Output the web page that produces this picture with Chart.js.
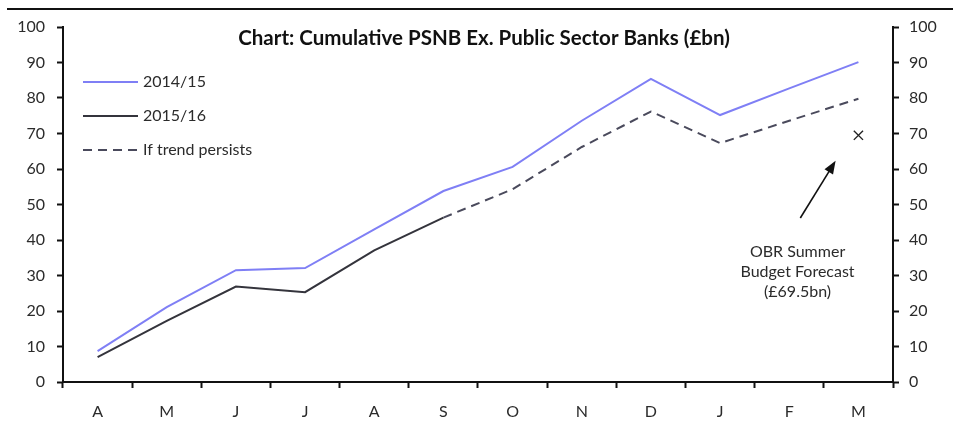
<!DOCTYPE html>
<html><head><meta charset="utf-8">
<script src="https://cdn.jsdelivr.net/npm/chart.js@4/dist/chart.umd.min.js"></script>
<style>html,body{margin:0;padding:0;background:#fff}#wrap{width:960px;height:427px}</style>
</head><body><div id="wrap"><canvas id="c" width="960" height="427"></canvas></div>
<script>
const months = ['A','M','J','J','A','S','O','N','D','J','F','M'];
const fy1415 = [8.7,21.1,31.5,32.1,43.0,53.8,60.6,73.6,85.4,75.2,82.7,90.1];
const fy1516 = [7.0,17.2,26.9,25.3,37.1,46.3,null,null,null,null,null,null];
const trend  = [null,null,null,null,null,46.3,54.3,66.2,76.2,67.3,73.6,79.8];
const obrForecast = [null,null,null,null,null,null,null,null,null,null,null,69.5];
const yTicks = [0,10,20,30,40,50,60,70,80,90,100];
const titleText = 'Chart: Cumulative PSNB Ex. Public Sector Banks (£bn)';
const noteLines = ['OBR Summer','Budget Forecast','(£69.5bn)'];

const FONT = 'Lato, "Open Sans", sans-serif';
const TXT = '#2b2b2b';

const decor = {
  id:'decor',
  afterDraw(chart){
    const ctx = chart.ctx, x = chart.scales.x, y = chart.scales.y;
    ctx.save();
    // top rule
    ctx.strokeStyle = '#111'; ctx.lineWidth = 2;
    ctx.beginPath(); ctx.moveTo(7,9); ctx.lineTo(953,9); ctx.stroke();
    // title
    ctx.fillStyle = '#111'; ctx.font = 'bold 20.5px ' + FONT;
    ctx.textAlign = 'center'; ctx.textBaseline = 'middle';
    ctx.fillText(titleText, 484, 38);
    // legend
    ctx.font = '16px ' + FONT; ctx.textAlign = 'left'; ctx.fillStyle = TXT;
    const ds = chart.data.datasets;
    [0,1,2].forEach((i,k)=>{
      const ly = 82 + k*34;
      ctx.strokeStyle = ds[i].borderColor; ctx.lineWidth = 2;
      ctx.setLineDash(ds[i].borderDash || []);
      ctx.beginPath(); ctx.moveTo(83,ly); ctx.lineTo(138,ly); ctx.stroke();
      ctx.setLineDash([]);
      ctx.fillText(ds[i].label, 143, ly);
    });
    // annotation arrow (in data space)
    const step = x.getPixelForValue(1) - x.getPixelForValue(0);
    const tx = x.getPixelForValue(10) + 0.16*step, ty = y.getPixelForValue(46.2);
    const hx = x.getPixelForValue(10) + 0.67*step, hy = y.getPixelForValue(62.3);
    const ang = Math.atan2(hy-ty, hx-tx);
    ctx.strokeStyle = '#111'; ctx.fillStyle = '#111'; ctx.lineWidth = 1.6;
    ctx.beginPath(); ctx.moveTo(tx,ty);
    ctx.lineTo(hx - 10*Math.cos(ang), hy - 10*Math.sin(ang)); ctx.stroke();
    ctx.beginPath(); ctx.moveTo(hx,hy);
    ctx.lineTo(hx - 13*Math.cos(ang) + 5*Math.sin(ang), hy - 13*Math.sin(ang) - 5*Math.cos(ang));
    ctx.lineTo(hx - 13*Math.cos(ang) - 5*Math.sin(ang), hy - 13*Math.sin(ang) + 5*Math.cos(ang));
    ctx.closePath(); ctx.fill();
    // annotation text
    ctx.fillStyle = TXT; ctx.font = '16px ' + FONT; ctx.textAlign = 'center';
    const nx = x.getPixelForValue(10) + 0.12*step;
    noteLines.forEach((t,i)=> ctx.fillText(t, nx, y.getPixelForValue(36.6 - i*5.6)));
    ctx.restore();
  }
};

new Chart(document.getElementById('c'), {
  type:'line',
  data:{
    labels: months,
    datasets:[
      {label:'2014/15', data:fy1415, borderColor:'#7f7ff5', borderWidth:2, pointRadius:0, tension:0},
      {label:'2015/16', data:fy1516, borderColor:'#34343c', borderWidth:2, pointRadius:0, tension:0},
      {label:'If trend persists', data:trend, borderColor:'#4a4a5c', borderWidth:2, borderDash:[9,6], pointRadius:0, tension:0},
      {label:'OBR', data:obrForecast, showLine:false, pointStyle:'crossRot', pointRadius:6.5, borderColor:'#222', borderWidth:1.4, yAxisID:'y'}
    ]
  },
  options:{
    responsive:false, animation:false,
    layout:{padding:{top:27,left:0,right:0,bottom:0}},
    plugins:{legend:{display:false}, tooltip:{enabled:false}},
    scales:{
      x:{
        offset:true,
        grid:{offset:true, drawOnChartArea:false, drawTicks:true, tickLength:6, color:'#111', tickWidth:2},
        border:{display:true, color:'#111', width:2},
        ticks:{color:TXT, font:{family:FONT, size:16}, padding:14, maxRotation:0, autoSkip:false},
        afterFit(s){ s.height = 45; }
      },
      y:{
        position:'left', min:0, max:100,
        afterBuildTicks(s){ s.ticks = yTicks.map(v=>({value:v})); },
        grid:{drawOnChartArea:false, drawTicks:true, tickLength:6, color:'#111', tickWidth:2},
        border:{display:true, color:'#111', width:2},
        ticks:{color:TXT, font:{family:FONT, size:16}, padding:12},
        afterFit(s){ s.width = 63; }
      },
      y2:{
        position:'right', min:0, max:100,
        afterBuildTicks(s){ s.ticks = yTicks.map(v=>({value:v})); },
        grid:{drawOnChartArea:false, drawTicks:true, tickLength:6, color:'#111', tickWidth:2},
        border:{display:true, color:'#111', width:2},
        ticks:{color:TXT, font:{family:FONT, size:16}, padding:10},
        afterFit(s){ s.width = 67; }
      }
    }
  },
  plugins:[decor]
});
</script></body></html>
